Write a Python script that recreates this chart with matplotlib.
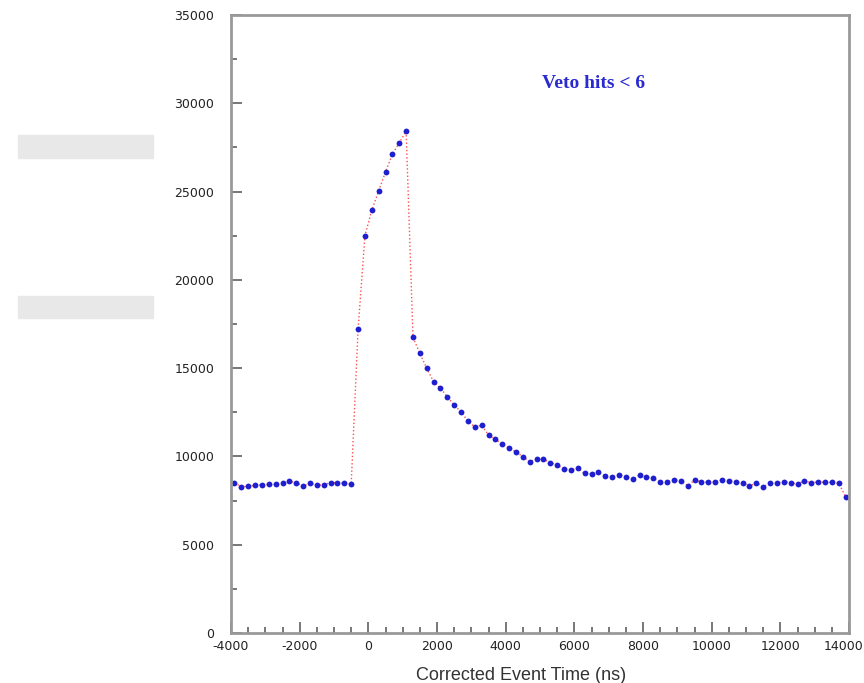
import numpy as np
import matplotlib
matplotlib.use("Agg")
import matplotlib.pyplot as plt
from matplotlib.patches import Rectangle
from matplotlib.ticker import MultipleLocator
import matplotlib.transforms as mtransforms

plt.rcParams['axes.unicode_minus'] = False

# bin centres (ns), 200 ns bins
t = np.arange(-3900, 14000, 200)

baseline = [8510, 8280, 8320, 8360, 8400, 8420, 8420, 8480, 8590,
            8510, 8320, 8480, 8380, 8400, 8510, 8510, 8480, 8440]
peak = [17200, 22500, 23950, 25040, 26120, 27120, 27760, 28420]
decay = [16740, 15840, 14990, 14230, 13860, 13380, 12890, 12530, 12000,
         11680, 11760, 11210, 10970, 10700, 10460, 10270, 9980, 9700, 9840]
mid = [9840, 9650, 9510, 9270, 9230, 9330, 9040, 9000, 9130, 8890, 8850,
       8950, 8850, 8700, 8950, 8850, 8760, 8530, 8570, 8660, 8620, 8340]
tail = [8660, 8570, 8530, 8570, 8660, 8620, 8570, 8480, 8320, 8500, 8290,
        8480, 8500, 8570, 8500, 8440, 8620, 8500, 8570, 8530, 8530, 8480, 7720]
counts = np.array(baseline + peak + decay + mid + tail)

fig = plt.figure(figsize=(8.64, 6.83), dpi=100)
ax = fig.add_axes([0.2674, 0.0732, 0.7153, 0.9048])

ax.plot(t, counts, linestyle=':', color='#ff5050', linewidth=1.0, zorder=1)
ax.plot(t, counts, linestyle='none', marker='o', markersize=4.2,
        color='#1f1fd0', markeredgewidth=0, zorder=2)

ax.set_xlim(-4000, 14000)
ax.set_ylim(0, 35000)
ax.xaxis.set_major_locator(MultipleLocator(2000))
ax.xaxis.set_minor_locator(MultipleLocator(500))
ax.yaxis.set_major_locator(MultipleLocator(5000))
ax.yaxis.set_minor_locator(MultipleLocator(2500))

ax.tick_params(which='both', direction='in', color='#777777', width=1.4,
               labelsize=9, labelcolor='#222222')
ax.tick_params(which='major', length=8)
ax.tick_params(which='minor', length=4.5)
ax.tick_params(axis='y', pad=12)
ax.tick_params(axis='x', pad=5)
for s in ax.spines.values():
    s.set_color('#999999')
    s.set_linewidth(2)

ax.set_xlabel('Corrected Event Time (ns)', family='Liberation Sans',
              fontsize=13, color='#333333')
ax.xaxis.set_label_coords(0.47, -0.055)

ax.text(5050, 31100, 'Veto hits < 6', family='Liberation Serif',
        fontweight='bold', fontsize=14, color='#2a2ad0', va='center')

# keep the 14000 label inside the picture
fig.canvas.draw()
shift = mtransforms.ScaledTranslation(-6 / 100, 0, fig.dpi_scale_trans)
for tick in ax.xaxis.get_major_ticks():
    if abs(tick.get_loc() - 14000) < 1:
        tick.label1.set_transform(tick.label1.get_transform() + shift)

# blurred boxes on the left side of the scan
for yb in (0.769, 0.534):
    fig.patches.append(Rectangle((0.021, yb), 0.156, 0.033,
                                 transform=fig.transFigure,
                                 color='#e8e8e8', zorder=0))

fig.savefig('out.png', dpi=100)
